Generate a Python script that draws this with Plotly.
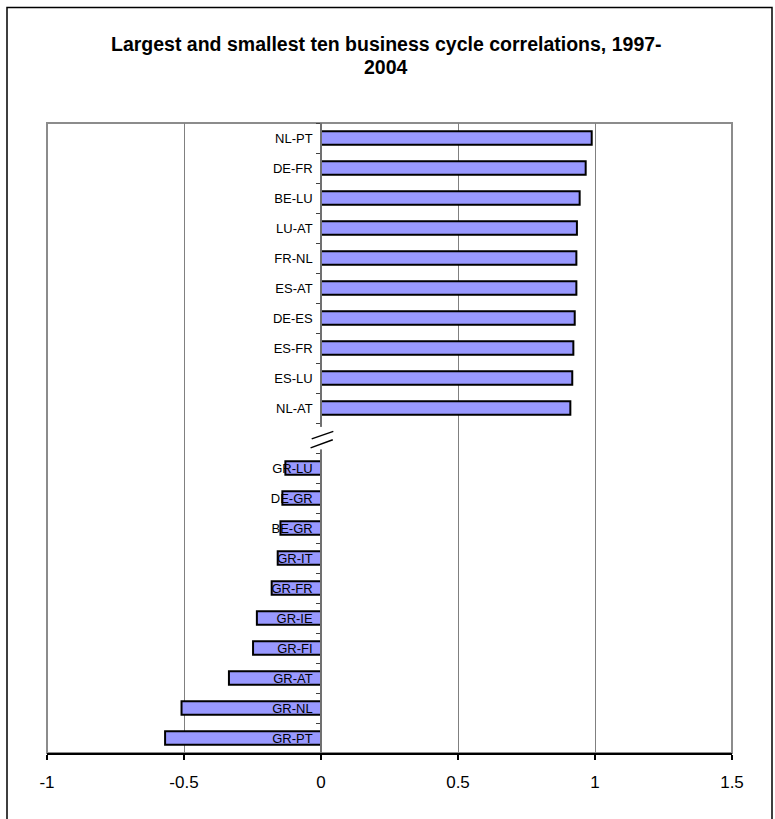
import plotly.graph_objects as go

# Data (top to bottom); " " is the empty gap slot between the two groups
pairs = ["NL-PT", "DE-FR", "BE-LU", "LU-AT", "FR-NL", "ES-AT", "DE-ES", "ES-FR", "ES-LU", "NL-AT",
         " ",
         "GR-LU", "DE-GR", "BE-GR", "GR-IT", "GR-FR", "GR-IE", "GR-FI", "GR-AT", "GR-NL", "GR-PT"]
correlations = [0.988, 0.966, 0.944, 0.934, 0.932, 0.932, 0.926, 0.921, 0.917, 0.910,
                None,
                -0.130, -0.141, -0.148, -0.158, -0.180, -0.234, -0.248, -0.336, -0.509, -0.569]
x_ticks = [-1, -0.5, 0, 0.5, 1, 1.5]
x_tick_labels = ["-1", "-0.5", "0", "0.5", "1", "1.5"]
title_lines = ["Largest and smallest ten business cycle correlations, 1997-", "2004"]

FONT = "Liberation Sans, Arial, sans-serif"
W, H = 775, 819
ML, MR, MT, MB = 47, 43, 123, 66
pw, ph = W - ML - MR, H - MT - MB


def py(px):
    """pixel row -> paper y"""
    return ((H - MB) - px) / ph


def pxp(px):
    """pixel column -> paper x"""
    return (px - ML) / pw


fig = go.Figure()
fig.add_trace(go.Bar(
    y=pairs, x=correlations, orientation="h",
    marker=dict(color="#9999FF", line=dict(color="black", width=2)),
    width=0.45, showlegend=False, hoverinfo="x+y",
))

gap = pairs.index(" ")

shapes = [
    dict(type="rect", xref="paper", yref="paper", x0=0, x1=1, y0=0, y1=1,
         line=dict(color="#8c8c8c", width=2), layer="below"),
    dict(type="rect", xref="paper", yref="paper",
         x0=pxp(7), x1=pxp(772), y0=py(822), y1=py(7.5),
         line=dict(color="black", width=1.5)),
    dict(type="line", xref="x", yref="y", x0=0, x1=0, y0=gap - 0.37, y1=gap + 0.38,
         line=dict(color="white", width=4), layer="above"),
    dict(type="line", xref="x", yref="y", x0=-0.034, x1=0.045, y0=gap + 0.03, y1=gap - 0.22,
         line=dict(color="black", width=1.5), layer="above"),
    dict(type="line", xref="x", yref="y", x0=-0.038, x1=0.043, y0=gap + 0.33, y1=gap + 0.06,
         line=dict(color="black", width=1.5), layer="above"),
]

annotations = [
    dict(text="<b>%s</b>" % title_lines[0], xref="paper", yref="paper",
         x=pxp(386), y=py(43.5), xanchor="center", yanchor="middle", showarrow=False,
         font=dict(family=FONT, size=19.5, color="black")),
    dict(text="<b>%s</b>" % title_lines[1], xref="paper", yref="paper",
         x=pxp(386), y=py(66.5), xanchor="center", yanchor="middle", showarrow=False,
         font=dict(family=FONT, size=19.5, color="black")),
]

fig.update_layout(
    width=W, height=H,
    margin=dict(l=ML, r=MR, t=MT, b=MB),
    paper_bgcolor="white", plot_bgcolor="white",
    font=dict(family=FONT, color="black", size=13),
    xaxis=dict(
        range=[-1, 1.5], tickvals=x_ticks, ticktext=x_tick_labels,
        showgrid=True, gridcolor="#808080", gridwidth=1, zeroline=False,
        showline=True, linecolor="black", linewidth=2,
        ticks="outside", ticklen=5, tickcolor="black", tickwidth=1.5,
        tickfont=dict(family=FONT, size=17, color="black"),
        ticklabelstandoff=8,
        fixedrange=True,
    ),
    yaxis=dict(
        type="category", categoryorder="array", categoryarray=pairs,
        autorange="reversed",
        anchor="free", position=(0 - (-1)) / (1.5 - (-1)),
        showgrid=False, zeroline=False,
        showline=True, linecolor="#707070", linewidth=1.5,
        ticks="outside", ticklen=4, tickcolor="#404040", tickson="boundaries",
        tickfont=dict(family=FONT, size=13, color="black"),
        ticklabelstandoff=5,
        fixedrange=True,
    ),
    shapes=shapes,
    annotations=annotations,
    bargap=0.5,
)

fig.write_html("out.html", config={"displayModeBar": False},
               post_script="document.body.style.margin='0';")
